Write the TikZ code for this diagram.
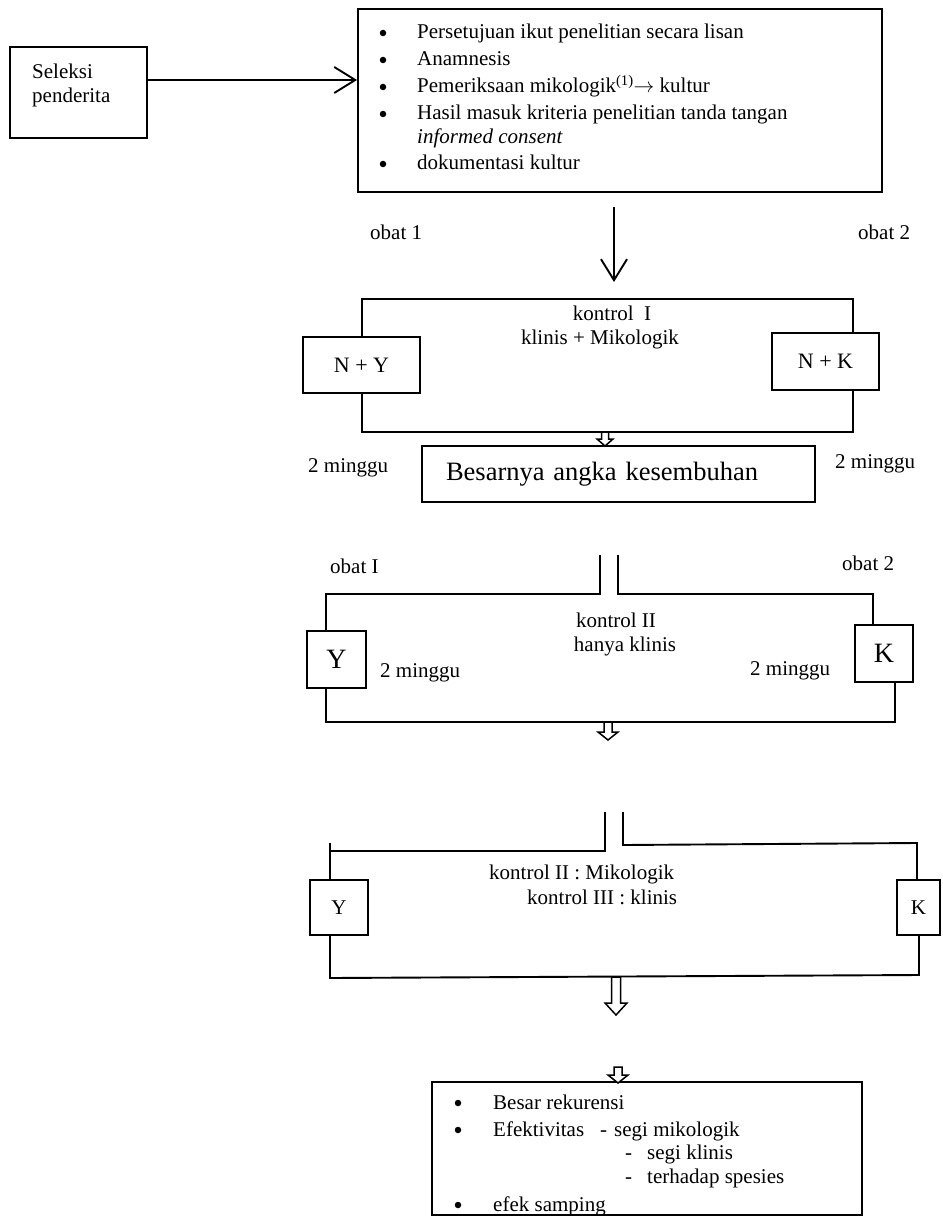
\documentclass[tikz,border=0pt]{standalone}
\usepackage{fontspec}
\setmainfont{Liberation Serif}
\usetikzlibrary{arrows.meta}
\newcommand\hollowarrow[6]{% x, ytop, ybot, stem half, head half, head length
  \draw[hol] ({#1-#4},{#2}) -- ({#1-#4},{#3-#6}) -- ({#1-#5},{#3-#6}) -- ({#1},{#3})
    -- ({#1+#5},{#3-#6}) -- ({#1+#4},{#3-#6}) -- ({#1+#4},{#2}) -- cycle;}
\begin{document}
\begin{tikzpicture}[x=1pt,y=-1pt,
  lin/.style={line width=1.9pt},
  box/.style={draw, line width=1.9pt, fill=white, inner sep=0pt},
  txt/.style={inner sep=0pt, anchor=base west, font=\fontsize{21}{25}\selectfont},
  ctxt/.style={inner sep=0pt, anchor=base, font=\fontsize{21}{25}\selectfont},
  bul/.style={circle, fill=black, inner sep=0pt, minimum size=6.5pt},
  arr/.style={line width=1.9pt, -{Straight Barb[length=21pt,width=26pt,line width=1.9pt]}},
  hol/.style={line width=1.5pt, fill=white, line join=miter}
]
\useasboundingbox (0,0) rectangle (942,1217);

% ---------- top row ----------
\node[box, minimum width=137pt, minimum height=91pt] (sel) at (78.5,92.5) {};
\node[txt] (sel1) at (32,79) {Seleksi};
\node[txt] (sel2) at (32,103) {penderita};

\node[box, minimum width=524pt, minimum height=183pt] (top) at (620,100.5) {};
\node[bul] (tb1) at (383,33) {};
\node[txt] (tt1) at (417,39) {Persetujuan ikut penelitian secara lisan};
\node[bul] (tb2) at (383,60) {};
\node[txt] (tt2) at (417,66) {Anamnesis};
\node[bul] (tb3) at (383,87) {};
\node[txt] (tt3) at (417,93) {Pemeriksaan mikologik\textsuperscript{(1)}$\rightarrow$ kultur};
\node[bul] (tb4) at (383,114) {};
\node[txt] (tt4) at (417,120) {Hasil masuk kriteria penelitian tanda tangan};
\node[txt] (tt5) at (417,144) {\textit{informed consent}};
\node[bul] (tb6) at (383,164) {};
\node[txt] (tt6) at (417,170) {dokumentasi kultur};

\coordinate (a1) at ([yshift=12.5pt]sel.east);
\draw[arr] (a1) -- (a1 -| top.west);

\coordinate (d1) at (614,207);
\coordinate (d2) at (614,282);
\draw[arr] (d1) -- (d2);

\node[txt] (ob1) at (370,239) {obat 1};
\node[txt] (ob2) at (858,239) {obat 2};

% ---------- kontrol I ----------
\draw[lin] (362,299) rectangle (853,432);
\node[box, minimum width=117pt, minimum height=56pt, font=\fontsize{22}{26}\selectfont] (ny) at (361.5,365) {N + Y};
\node[box, minimum width=107pt, minimum height=57pt, font=\fontsize{22}{26}\selectfont] (nk) at (825.5,361.5) {N + K};
\node[ctxt] (k1a) at (612,320) {kontrol\ \ I};
\node[ctxt] (k1b) at (600,344) {klinis + Mikologik};

\hollowarrow{605}{432}{446}{3.5}{8}{7}

\node[box, minimum height=56pt, text width=345pt, inner xsep=24pt, align=left,
      font=\fontsize{26.5}{30}\selectfont] (bes) at (618.5,474) {Besarnya angka kesembuhan};
\node[txt] (m1) at (308,472) {2 minggu};
\node[txt] (m2) at (835,468) {2 minggu};

% ---------- kontrol II ----------
\node[txt] (ob3) at (330,573) {obat I};
\node[txt] (ob4) at (842,570) {obat 2};
\draw[lin] (600,555) -- (600,594) -- (326,594) -- (326,722) -- (895,722) -- (895,682);
\draw[lin] (618,555) -- (618,594) -- (873,594) -- (873,625);
\node[box, minimum width=59pt, minimum height=57pt, font=\fontsize{28}{32}\selectfont] (y2) at (336.5,659.5) {Y};
\node[box, minimum width=58pt, minimum height=57pt, font=\fontsize{28}{32}\selectfont] (k2) at (884,653.5) {K};
\node[ctxt] (k2a) at (616,627) {kontrol II};
\node[ctxt] (k2b) at (625,651) {hanya klinis};
\node[txt] (m3) at (380,677) {2 minggu};
\node[txt] (m4) at (750,675) {2 minggu};

\hollowarrow{608}{722}{740}{4}{10}{8}

% ---------- kontrol III ----------
\draw[lin] (605,812) -- (605,851) -- (330,851);
\draw[lin] (330,843) -- (330,978) -- (919,975) -- (919,900);
\draw[lin] (623,812) -- (623,845) -- (917,843) -- (917,880);
\node[box, minimum width=58pt, minimum height=55pt] (y3) at (339,907.5) {\fontsize{21}{25}\selectfont Y};
\node[box, minimum width=43pt, minimum height=55pt] (k3) at (918.5,907.5) {\fontsize{21}{25}\selectfont K};
\node[txt] (k3a) at (489,879) {kontrol II : Mikologik};
\node[txt] (k3b) at (527,904) {kontrol III : klinis};

\hollowarrow{616}{977}{1015}{4.5}{11}{12}

% ---------- final box ----------
\node[box, minimum width=430pt, minimum height=133pt] (fin) at (647,1148.5) {};
\hollowarrow{618}{1067}{1083}{4}{10}{8}
\node[bul] (fb1) at (458,1103) {};
\node[txt] (ft1) at (493,1109) {Besar rekurensi};
\node[bul] (fb2) at (458,1130) {};
\node[txt] (ft2) at (493,1136) {Efektivitas};
\node[txt] (ft2a) at (600,1136) {-};
\node[txt] (ft2b) at (614,1136) {segi mikologik};
\node[txt] (ft3a) at (625,1159) {-};
\node[txt] (ft3b) at (647,1159) {segi klinis};
\node[txt] (ft4a) at (625,1183) {-};
\node[txt] (ft4b) at (647,1183) {terhadap spesies};
\node[bul] (fb5) at (458,1205) {};
\begin{scope}
  \clip (432,1082) rectangle (862,1213);
  \node[txt] (ft5) at (493,1211) {efek samping};
\end{scope}
\end{tikzpicture}
\end{document}
